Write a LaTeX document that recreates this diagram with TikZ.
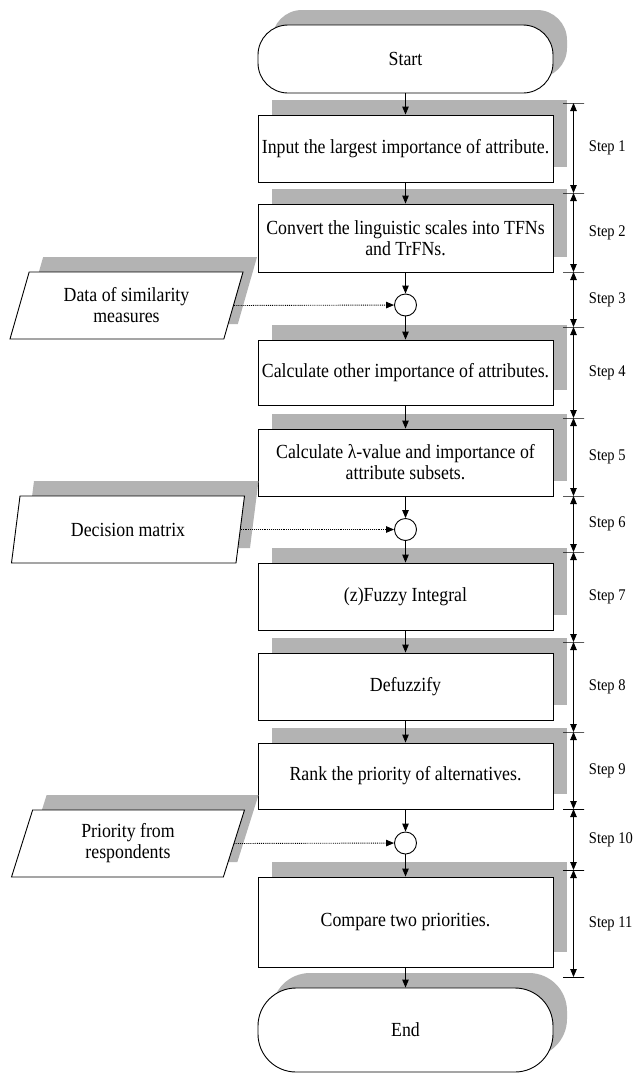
\documentclass[tikz,border=0pt]{standalone}
\usepackage{fontspec}
\setmainfont{Liberation Serif}[FakeStretch=0.89]
\usetikzlibrary{arrows.meta,shapes.geometric,shadows}
\definecolor{shadegray}{RGB}{179,179,179}

\begin{document}
\begin{tikzpicture}[x=1pt,y=-1pt,>={Triangle[length=8pt,width=6.5pt]},line width=0.9pt,
  every node/.style={font=\fontsize{20}{21}\selectfont},
  shadowed/.style={drop shadow={shadow xshift=14pt,shadow yshift=15pt,fill=shadegray,opacity=1}},
  term/.style={draw,fill=white,shadowed,rectangle,rounded corners=30pt,minimum width=295pt,minimum height=68pt},
  proc/.style={draw,fill=white,shadowed,rectangle,minimum width=295pt,minimum height=67pt,inner sep=2pt,align=center},
  iobox/.style={draw,fill=white,shadowed,trapezium,trapezium left angle=64,trapezium right angle=116,
    trapezium stretches body,minimum width=233pt,minimum height=67pt,inner sep=2pt,align=center},
  junction/.style={draw,fill=white,circle,minimum size=22pt,inner sep=0pt},
  dimtick/.style={draw,rectangle,minimum width=21pt,minimum height=0pt,inner sep=0pt,outer sep=0pt},
  steplbl/.style={right=15pt,inner sep=0pt,font=\fontsize{16.3}{18}\selectfont}]

\useasboundingbox (0,0) rectangle (634,1074);

% main column
\node[term] (start) at (405.5,59) {Start};
\node[proc] (b1) at (405.5,148.5) {Input the largest importance of attribute.};
\node[proc,minimum height=68pt] (b2) at (405.5,238) {Convert the linguistic scales into TFNs\\and TrFNs.};
\node[junction] (c1) at (405.5,305) {};
\node[proc,minimum height=65pt] (b3) at (405.5,372.5) {Calculate other importance of attributes.};
\node[proc] (b4) at (405.5,462.5) {Calculate λ-value and importance of\\attribute subsets.};
\node[junction] (c2) at (405.5,529.5) {};
\node[proc] (b5) at (405.5,596.5) {(z)Fuzzy Integral};
\node[proc] (b6) at (405.5,686.5) {Defuzzify};
\node[proc,minimum height=66pt] (b7) at (405.5,776) {Rank the priority of alternatives.};
\node[junction] (c3) at (405.5,843) {};
\node[proc,minimum height=90pt] (b8) at (405.5,922) {Compare two priorities.};
\node[term,rounded corners=38pt,minimum height=84pt] (finish) at (405.5,1030) {End};

% inputs
\node[iobox] (p1) at (126.5,305.5) {Data of similarity\\measures};
\node[iobox] (p2) at (128,529.5) {Decision matrix};
\node[iobox] (p3) at (128,843.5) {Priority from\\respondents};

\path[->] (start) edge (b1)
  (b1) edge (b2)
  (b2) edge (c1)
  (c1) edge (b3)
  (b3) edge (b4)
  (b4) edge (c2)
  (c2) edge (b5)
  (b5) edge (b6)
  (b6) edge (b7)
  (b7) edge (c3)
  (c3) edge (b8)
  (b8) edge (finish);

\path[->,densely dotted] (p1.right side) edge (c1)
  (p2.right side) edge (c2)
  (p3.right side) edge (c3);

% steps
\node[dimtick] (d0) at (573.5,103) {};
\node[dimtick] (d1) at (573.5,193) {};
\node[dimtick] (d2) at (573.5,272) {};
\node[dimtick] (d3) at (573.5,327) {};
\node[dimtick] (d4) at (573.5,418) {};
\node[dimtick] (d5) at (573.5,496) {};
\node[dimtick] (d6) at (573.5,552) {};
\node[dimtick] (d7) at (573.5,642) {};
\node[dimtick] (d8) at (573.5,732) {};
\node[dimtick] (d9) at (573.5,809) {};
\node[dimtick] (d10) at (573.5,870) {};
\node[dimtick] (d11) at (573.5,977) {};

\path[<->] (d0) edge node[steplbl]{Step 1} (d1)
  (d1) edge node[steplbl]{Step 2} (d2)
  (d2) edge node[steplbl]{Step 3} (d3)
  (d3) edge node[steplbl]{Step 4} (d4)
  (d4) edge node[steplbl]{Step 5} (d5)
  (d5) edge node[steplbl]{Step 6} (d6)
  (d6) edge node[steplbl]{Step 7} (d7)
  (d7) edge node[steplbl]{Step 8} (d8)
  (d8) edge node[steplbl]{Step 9} (d9)
  (d9) edge node[steplbl]{Step 10} (d10)
  (d10) edge node[steplbl]{Step 11} (d11);
\end{tikzpicture}
\end{document}
